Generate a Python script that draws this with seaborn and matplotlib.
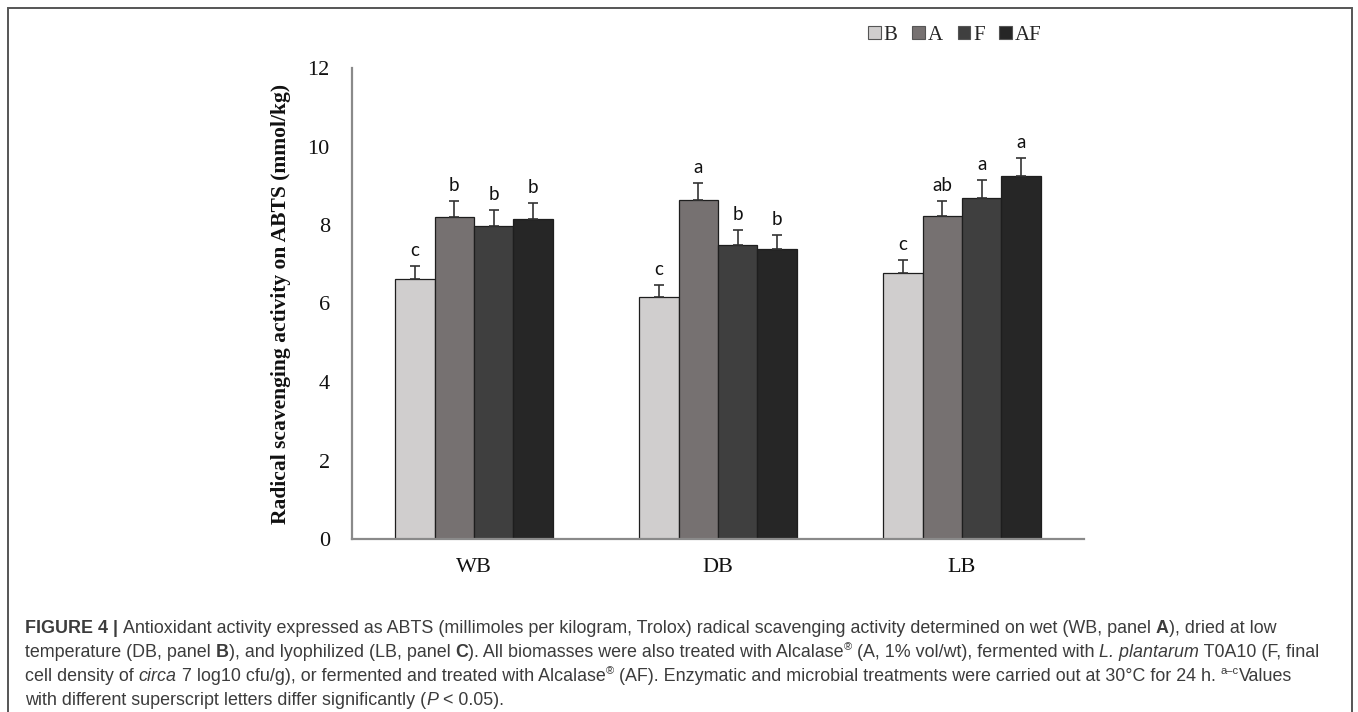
import matplotlib
matplotlib.use("Agg")
import matplotlib.pyplot as plt
import numpy as np
import pandas as pd
import seaborn as sns
from matplotlib.patches import Rectangle

# values (mmol/kg)
groups = ["WB", "DB", "LB"]
treatments = ["B", "A", "F", "AF"]
mean_B = [6.62, 6.16, 6.78]
mean_A = [8.20, 8.64, 8.22]
mean_F = [7.97, 7.49, 8.70]
mean_AF = [8.16, 7.38, 9.25]
err_B = [0.33, 0.31, 0.33]
err_A = [0.42, 0.43, 0.40]
err_F = [0.42, 0.39, 0.45]
err_AF = [0.41, 0.36, 0.45]
let_B = ["c", "c", "c"]
let_A = ["b", "a", "ab"]
let_F = ["b", "b", "a"]
let_AF = ["b", "b", "a"]

colors = ["#d0cece", "#767171", "#3f3f3f", "#262626"]

means = {"B": mean_B, "A": mean_A, "F": mean_F, "AF": mean_AF}
errs = {"B": err_B, "A": err_A, "F": err_F, "AF": err_AF}
letters = {"B": let_B, "A": let_A, "F": let_F, "AF": let_AF}

df = pd.DataFrame(
    [(g, t, means[t][i]) for t in treatments for i, g in enumerate(groups)],
    columns=["biomass", "treatment", "abts"],
)

sns.set_theme(style="white")
plt.rcParams["font.family"] = ["Liberation Serif", "DejaVu Serif"]

W, H = 1358, 712
fig = plt.figure(figsize=(W / 100, H / 100), dpi=100)
ax = fig.add_axes([352 / W, 1 - 539 / H, (1084 - 352) / W, (539 - 68) / H])

sns.barplot(
    data=df, x="biomass", y="abts", hue="treatment", order=groups,
    hue_order=treatments, palette=colors, width=0.645, errorbar=None,
    edgecolor="#1e1e1e", linewidth=0.9, saturation=1, ax=ax,
)

# upper-only error bars and significance letters
for cont, t in zip(ax.containers, treatments):
    xs = [p.get_x() + p.get_width() / 2 for p in cont]
    ys = [p.get_height() for p in cont]
    e = errs[t]
    ax.errorbar(xs, ys, yerr=[np.zeros(len(e)), e], fmt="none",
                ecolor="#333333", elinewidth=1.2, capsize=3.6, capthick=1.2)
    for x, y, ee, lab in zip(xs, ys, e, letters[t]):
        ax.annotate(lab, (x, y + ee), xytext=(0, 5), textcoords="offset points",
                    ha="center", va="bottom", fontsize=13.5,
                    family=["Lato", "DejaVu Sans"], color="#111111")

ax.set_xlim(-0.5, 2.5)
ax.set_ylim(0, 12)
ax.set_yticks(range(0, 13, 2))
ax.tick_params(axis="both", length=0, labelsize=16, colors="#111111")
ax.tick_params(axis="x", pad=14)
ax.tick_params(axis="y", pad=16)
ax.set_xlabel("")
ax.set_ylabel("Radical scavenging activity on ABTS (mmol/kg)",
              fontsize=15.5, fontweight="bold", color="#111111", labelpad=12)
for side in ["top", "right"]:
    ax.spines[side].set_visible(False)
for side in ["left", "bottom"]:
    ax.spines[side].set_color("#8a8a8a")
    ax.spines[side].set_linewidth(1.6)

leg = ax.legend(
    loc="center", bbox_to_anchor=(955 / W, 1 - 35 / H), bbox_transform=fig.transFigure,
    ncol=4, frameon=False, fontsize=15, handlelength=0.6, handleheight=0.6,
    handletextpad=0.15, columnspacing=0.7, borderaxespad=0,
)
for h in leg.legend_handles:
    h.set_edgecolor("#555555")
    h.set_linewidth(0.8)

# outer frame of the figure panel
fig.patches.append(Rectangle((8 / W, -0.05), (1352 - 8) / W, 1.05 - 8 / H,
                             transform=fig.transFigure, fill=False,
                             edgecolor="#555555", linewidth=1.4))

# caption, drawn run by run to mix bold/italic/superscript
cap_lines = [
    [("FIGURE 4 | ", "b"), ("Antioxidant activity expressed as ABTS (millimoles per kilogram, Trolox) radical scavenging activity determined on wet (WB, panel ", "n"), ("A", "b"), ("), dried at low", "n")],
    [("temperature (DB, panel ", "n"), ("B", "b"), ("), and lyophilized (LB, panel ", "n"), ("C", "b"), ("). All biomasses were also treated with Alcalase", "n"), ("®", "s"), (" (A, 1% vol/wt), fermented with ", "n"), ("L. plantarum", "i"), (" T0A10 (F, final", "n")],
    [("cell density of ", "n"), ("circa", "i"), (" 7 log10 cfu/g), or fermented and treated with Alcalase", "n"), ("®", "s"), (" (AF). Enzymatic and microbial treatments were carried out at 30°C for 24 h. ", "n"), ("a–c", "s"), ("Values", "n")],
    [("with different superscript letters differ significantly (", "n"), ("P", "i"), (" < 0.05).", "n")],
]
renderer = fig.canvas.get_renderer()
cap_size = 12.9
for runs, yb in zip(cap_lines, [633, 657, 681, 705]):
    xp = 25
    for txt, st in runs:
        kw = dict(fontsize=cap_size, color="#3c3c3c", family=["Liberation Sans", "DejaVu Sans"])
        y_here = yb
        if st == "b":
            kw["fontweight"] = "bold"
        elif st == "i":
            kw["fontstyle"] = "italic"
        elif st == "s":
            kw["fontsize"] = cap_size * 0.62
            y_here = yb - 7
        t = fig.text(xp / W, 1 - y_here / H, txt, va="baseline", ha="left", **kw)
        xp += t.get_window_extent(renderer).width

fig.savefig("out.png", dpi=100)
